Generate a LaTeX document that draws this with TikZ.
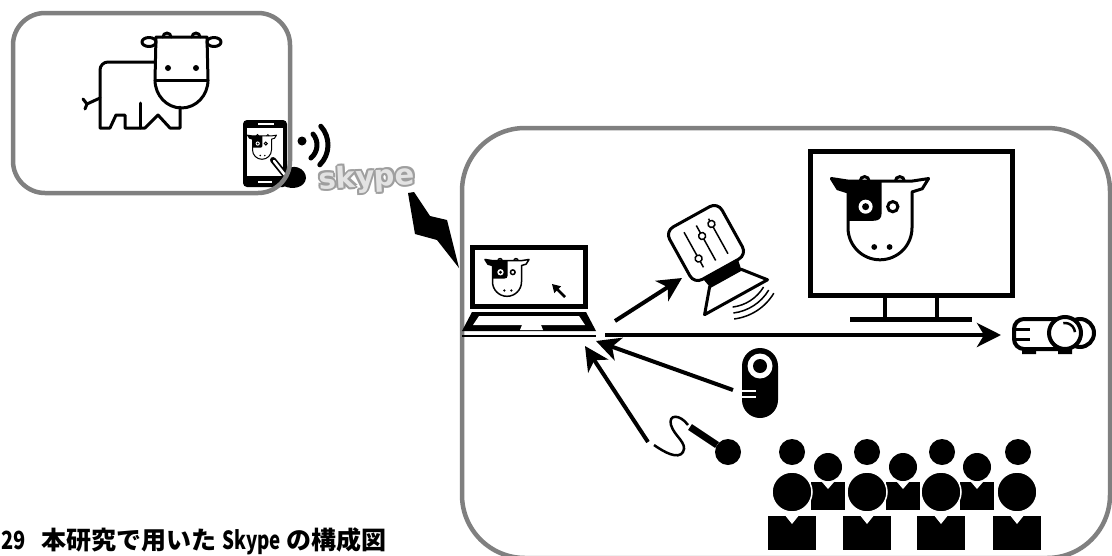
\documentclass[tikz,border=0pt]{standalone}
\usepackage{fontspec}
\usepackage{graphicx}
\newfontfamily\jpfont{Noto Sans CJK JP}
\newfontfamily\logofont{DejaVu Sans}
\usetikzlibrary{arrows.meta,positioning}

% cow head with a black patch, drawn around (0,0), half width 1
\newcommand{\cowface}[1]{%
  \fill (-1.52,-1.14) -- (-1,-1.06) -- (0.05,-1.06) -- (0.05,-0.05)
    .. controls (0.05,0.12) and (-0.05,0.18) .. (-0.2,0.18) -- (-1,0.18)
    -- (-1,-0.72) -- (-1.32,-0.82) -- cycle;
  \draw[line width=#1,line join=round] (-1,0.4) -- (-1,-0.72) -- (-1.32,-0.82)
    -- (-1.52,-1.14) -- (-1,-1.06) -- (1,-1.06) -- (1.52,-1.14) -- (1.32,-0.82)
    -- (1,-0.72) -- (1,0.4) arc[start angle=0,end angle=180,radius=1];
  \draw[line width=#1] (-0.62,-1.06) arc[start angle=180,end angle=360,radius=0.14]
    (0.48,-1.06) arc[start angle=180,end angle=360,radius=0.14];
  \fill[white] (-0.45,-0.26) circle (0.22);
  \fill (-0.45,-0.26) circle (0.11);
  \draw[line width=#1] (0.4,-0.26) circle (0.16);
  \fill (-0.18,1.0) circle (0.09) (0.3,1.0) circle (0.09);
}

\begin{document}
\begin{tikzpicture}[x=1pt,y=-1pt,
    framebox/.style={draw=gray,line width=4.5pt},
    sigarrow/.style={line width=4pt,-{Stealth[length=24pt,width=24pt,inset=7pt]}},
    outline/.style={line width=3pt,line join=round,line cap=round},
    logo/.style={rotate=3,font=\fontsize{29}{29}\logofont\bfseries}]
  \fill[white] (0,0) rectangle (1112,555);
  \useasboundingbox (0,0) rectangle (1112,555);

  % the cow at home
  \begin{scope}[outline]
    \draw (155,80) -- (156,37) -- (207,37) -- (208,80)
      arc[start angle=0,end angle=180,x radius=26.5,y radius=28] -- cycle;
    \draw (155,80) -- (208,80);
    \draw (163,37) arc[start angle=180,end angle=360,radius=4]
      (192,37) arc[start angle=180,end angle=360,radius=4];
    \draw (149,42) ellipse [x radius=7,y radius=4.5];
    \draw (214,42) ellipse [x radius=7,y radius=4.5];
    \fill (168,68) circle (3) (196,68) circle (3);
    \draw (155,62) -- (108,62) arc[start angle=270,end angle=180,radius=8]
      -- (100,128) -- (110,128) -- (116,115) -- (125,115) -- (125,128)
      -- (145,128) -- (158,115) -- (170,128) -- (180,128) -- (180,107);
    \draw (140,103) -- (140,128);
    \draw (100,98) -- (87,104);
    \draw (83,99) -- (87,104) -- (85,109);
  \end{scope}

  % smartphone
  \fill[rounded corners=4pt] (243,120) rectangle (287,187);
  \fill[white] (247,128) rectangle (283,176);
  \draw[white,line width=1.5pt] (258,124) -- (274,124);
  \draw[white,line width=2pt] (258,182) -- (272,182);
  \begin{scope}[shift={(262,146)},scale=9.5]
    \cowface{1pt}
  \end{scope}
  \fill (284,172) .. controls (292,162) and (306,168) .. (306,178)
    .. controls (305,188) and (292,190) .. (284,186) -- cycle;
  \draw[line width=6pt,line cap=round] (286,176) -- (273,160);
  \draw[white,line width=2.5pt,line cap=round] (285,175) -- (274,161);

  \draw[framebox,rounded corners=32pt] (13,13) rectangle (290,193);

  % wireless
  \fill (302,141) circle (4.5);
  \draw[line width=5pt,line cap=round] (300,145) ++(-40:17) arc[start angle=-40,end angle=50,radius=17];
  \draw[line width=5pt,line cap=round] (300,145) ++(-42:28) arc[start angle=-42,end angle=45,radius=28];

  % skype logo with its dark rim
  \foreach \dx/\dy in {2/0,-2/0,0/2,0/-2,1.5/1.5,-1.5/1.5,1.5/-1.5,-1.5/-1.5}
    \node[logo,text=gray!75,xshift=\dx pt,yshift=\dy pt] at (367,179) {skype};
  \node[logo,text=gray!22] (skype) at (367,179) {skype};

  % link
  \fill (408,193) -- (414,192) -- (430,216) -- (447,220) -- (459,268)
    -- (437,240) -- (415,234) -- cycle;

  \draw[framebox,rounded corners=63pt] (462,128) rectangle (1110,558);

  % laptop
  \draw[line width=5pt] (472,247) rectangle (585,306);
  \begin{scope}[shift={(507,276)},scale=14.5]
    \cowface{1.5pt}
  \end{scope}
  \draw[line width=2.5pt,-{Triangle[length=8pt,width=9pt]}] (565,297) -- (552,284);
  \fill (472,312) -- (586,312) -- (596,331) -- (462,331) -- cycle;
  \fill[white] (479,316) -- (579,316) -- (585,325) -- (473,325) -- cycle;
  \fill[white] (522,325) -- (541,325) -- (543,330) -- (520,330) -- cycle;
  \draw[line width=2pt] (462,336) -- (596,336);

  % mixer on a speaker
  \begin{scope}[shift={(706,243)},rotate=29]
    \draw[line width=3pt,rounded corners=9pt,fill=white] (-30,-30) rectangle (30,30);
    \foreach \sx/\ky in {-14/10,0/-8,14/-14} {
      \draw[line width=1.5pt] (\sx,-20) -- (\sx,20);
      \draw[line width=1.5pt,fill=white] (\sx,\ky) circle (3.5);
    }
    \fill (-20,30) -- (20,30) -- (18,40) -- (-18,40) -- cycle;
    \draw[line width=3pt,line join=round] (-18,40) -- (18,40) -- (36,62) -- (-36,62) -- cycle;
    \foreach \rad in {42,48,54}
      \draw[line width=1.5pt] (8,30) ++(60:\rad) arc[start angle=60,end angle=112,radius=\rad];
  \end{scope}

  % monitor
  \draw[line width=5pt] (810,151) rectangle (1012,295);
  \draw[line width=4pt] (885,295) -- (885,318) (937,295) -- (937,318);
  \draw[line width=5pt] (850,319) -- (972,319);
  \begin{scope}[shift={(880,215)},scale=32]
    \cowface{3pt}
  \end{scope}

  % projector
  \draw[line width=4pt,fill=white] (1080,333) circle (14);
  \draw[line width=4pt,rounded corners=10pt,fill=white] (1014,319) rectangle (1070,349);
  \draw[line width=3pt] (1014,329) -- (1030,329) (1014,339) -- (1030,339);
  \fill (1022,349) rectangle (1036,354) (1058,349) rectangle (1072,354);
  \draw[line width=4pt,fill=white] (1065,333) circle (16);
  \draw[line width=2.5pt] (1065,333) ++(-100:10) arc[start angle=-100,end angle=-5,radius=10];

  % webcam
  \fill[rounded corners=18pt] (742,348) rectangle (778,418);
  \fill[white] (760,366) circle (12.5);
  \fill (760,366) circle (7);
  \draw[white,line width=2pt] (742,391) -- (756,391) (742,397) -- (756,397);

  % microphone
  \fill (728,452) circle (13);
  \draw[line width=7pt] (690,427) -- (717,445);
  \draw[line width=2.5pt] (688,425) .. controls (680,414) and (668,414) .. (671,425)
    .. controls (674,436) and (688,443) .. (683,452)
    .. controls (678,460) and (664,452) .. (654,445);

  % audience
  \foreach \cx in {792,867,942,1018}
    \fill (\cx,452) circle (13);
  \foreach \cx in {828,903,977} {
    \fill (\cx,467) circle (14);
    \fill (\cx-17,482) rectangle (\cx+17,510);
    \fill[white] (\cx-6,482) -- (\cx,489) -- (\cx+6,482) -- cycle;
  }
  \foreach \cx in {792,867,941,1017} {
    \filldraw[draw=white,line width=1.5pt] (\cx,492) circle (20);
    \filldraw[draw=white,line width=1.5pt] (\cx-25,515) rectangle (\cx+25,551);
    \fill[white] (\cx-8,514) -- (\cx,524) -- (\cx+8,514) -- cycle;
  }

  % signal paths
  \coordinate (pc-mix) at (615,321);
  \coordinate (mix-in) at (682,278);
  \coordinate (pc-pj) at (605,335);
  \coordinate (pj-in) at (1001,335);
  \coordinate (cam-out) at (733,390);
  \coordinate (pc-cam) at (596,341);
  \coordinate (mic-out) at (648,442);
  \coordinate (pc-mic) at (585,346);
  \draw[sigarrow] (pc-mix) -- (mix-in);
  \draw[sigarrow] (pc-pj) -- (pj-in);
  \draw[sigarrow] (cam-out) -- (pc-cam);
  \draw[sigarrow] (mic-out) -- (pc-mic);

  \node[anchor=base west,inner sep=0pt] (caption) at (1,549)
    {\fontsize{25}{25}\jpfont\bfseries\scalebox{0.8}[1]{29}\hspace{16pt}本研究で用いた \scalebox{0.75}[1]{Skype} の構成図};
\end{tikzpicture}
\end{document}
